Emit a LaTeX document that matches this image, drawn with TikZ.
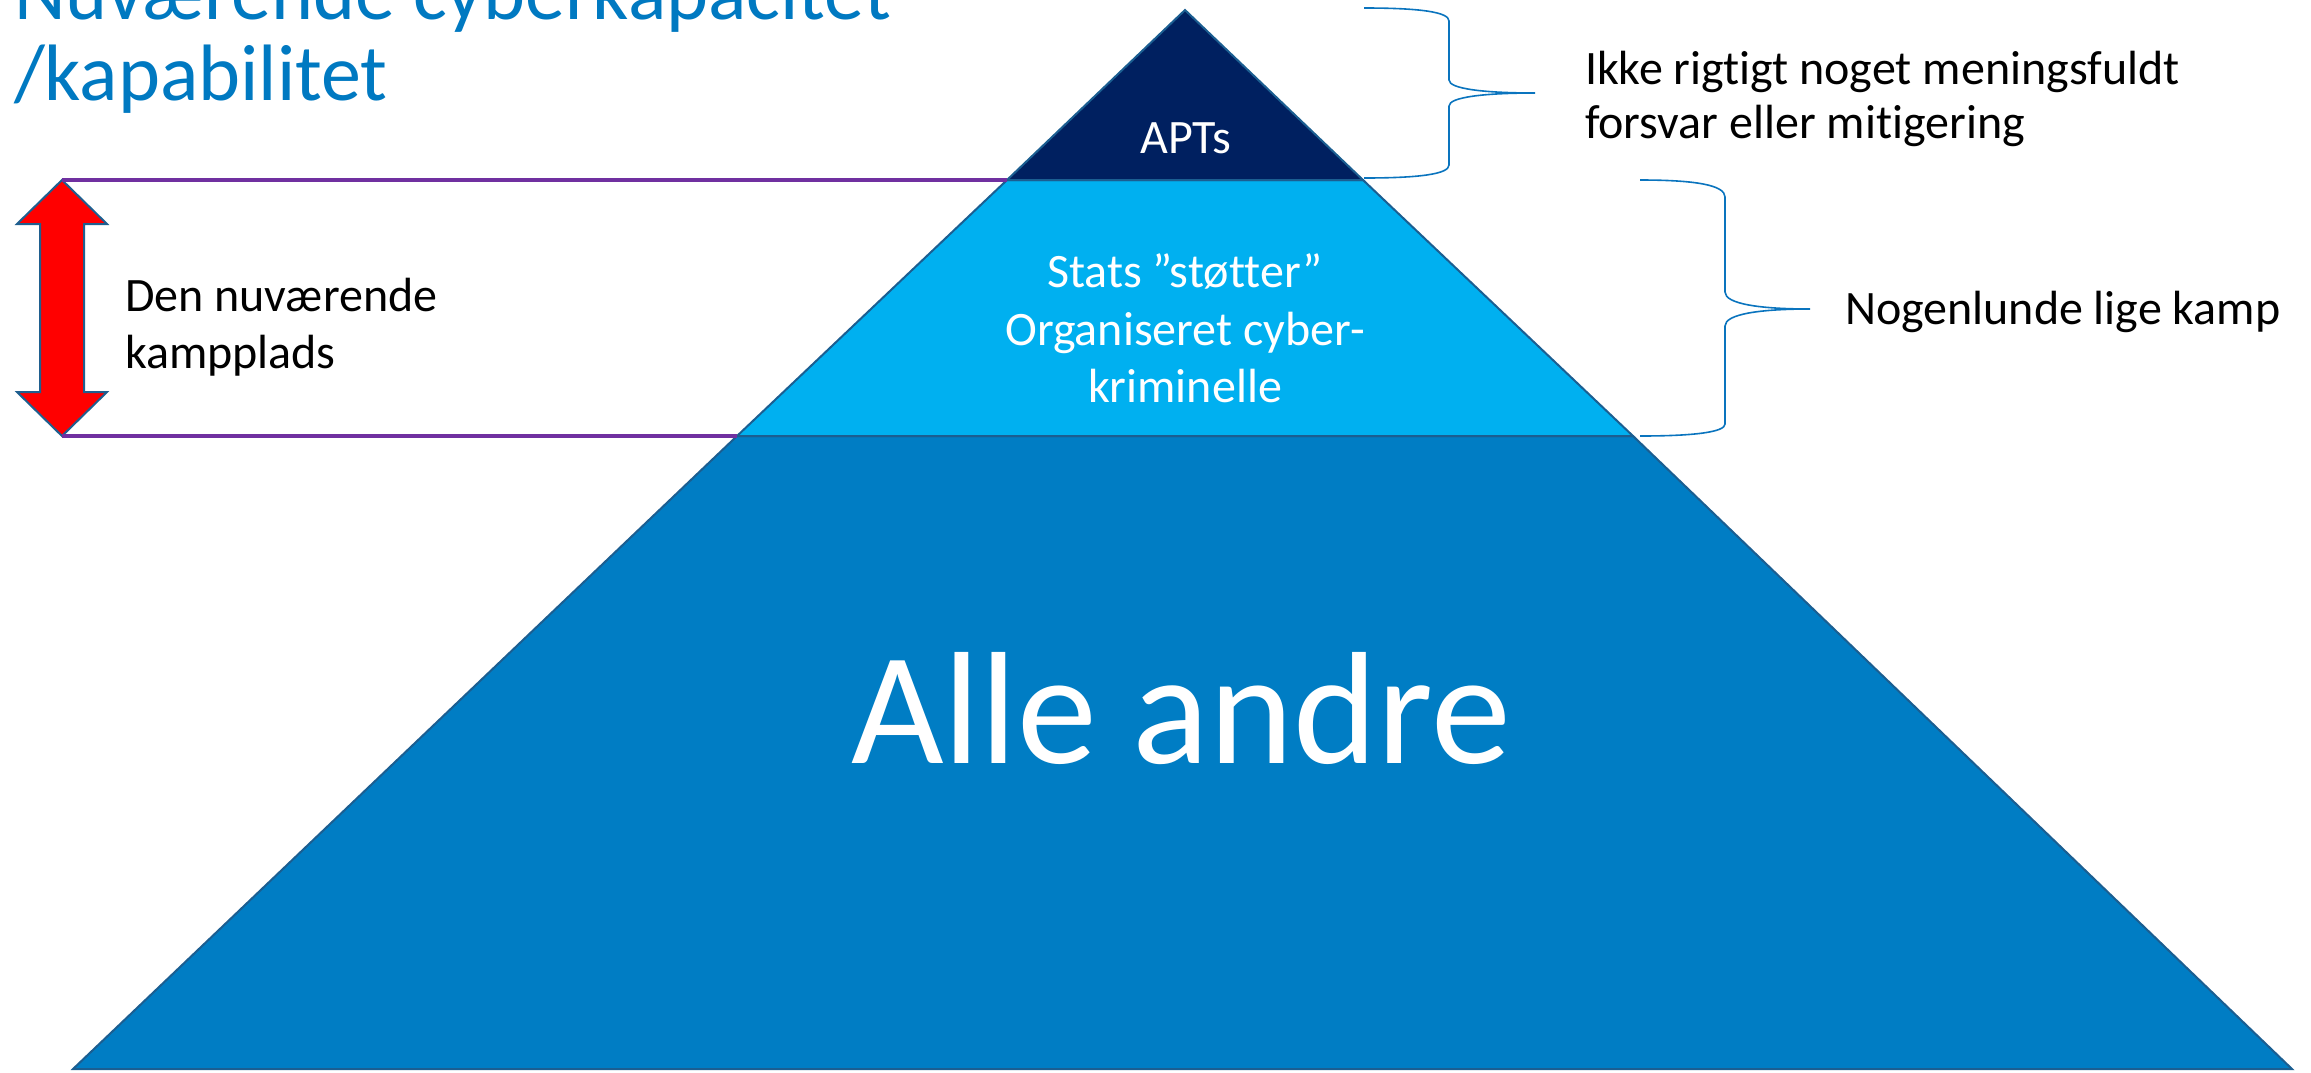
\documentclass[tikz,border=0pt]{standalone}
\usepackage{fontspec}
\setmainfont{Carlito}[Ligatures={NoCommon}]
\definecolor{titleblue}{HTML}{0079C1}
\definecolor{botblue}{HTML}{007DC4}
\definecolor{midblue}{HTML}{00B0F0}
\definecolor{topblue}{HTML}{002060}
\definecolor{edgeblue}{HTML}{1B5E91}
\definecolor{bracecol}{HTML}{0A74BE}
\definecolor{purp}{HTML}{7030A0}
\definecolor{arrowedge}{HTML}{1F5F8F}
\tikzset{
  band/.style={draw=edgeblue, line width=1pt, line join=miter},
  purpleline/.style={draw=purp, line width=1.6pt},
  bracestyle/.style={draw=bracecol, line width=0.8pt},
  lbl/.style={inner sep=0pt, outer sep=0pt},
  blacktext/.style={lbl, anchor=base west, font=\fontsize{24}{28}\selectfont, text=black},
  whitetext/.style={lbl, anchor=base, font=\fontsize{24}{28}\selectfont, text=white},
}
\begin{document}
\begin{tikzpicture}[x=0.5pt,y=-0.5pt]
\useasboundingbox (0,0) rectangle (2311,1072);
% pyramid corners
\coordinate (apex) at (1185,10);
\coordinate (aptL) at (1007,180);
\coordinate (aptR) at (1363,180);
\coordinate (midL) at (737,436);
\coordinate (midR) at (1633,436);
\coordinate (baseL) at (73,1069);
\coordinate (baseR) at (2292,1069);
% bands
\path[band, fill=botblue] (midL) -- (midR) -- (baseR) -- (baseL) -- cycle;
\path[band, fill=midblue] (aptL) -- (aptR) -- (midR) -- (midL) -- cycle;
\path[band, fill=topblue] (apex) -- (aptR) -- (aptL) -- cycle;
% red double arrow
\coordinate (arrTop) at (62,180);
\coordinate (arrBot) at (62,436);
\path[fill=red, draw=arrowedge, line width=1pt, line join=miter]
  (arrTop) -- (107,224) -- (84,224) -- (84,392) -- (107,392) -- (arrBot)
  -- (17,392) -- (40,392) -- (40,224) -- (17,224) -- cycle;
% purple lines
\draw[purpleline] (arrTop) -- (aptL);
\draw[purpleline] (arrBot) -- (midL);
% braces
\coordinate (b1top) at (1364,8);
\coordinate (b1tip) at (1535,93);
\coordinate (b1bot) at (1364,178);
\draw[bracestyle] (b1top) .. controls (1420,8) and (1449,12) .. (1449,21)
  -- (1449,80) .. controls (1449,89) and (1485,93) .. (b1tip)
  .. controls (1485,93) and (1449,97) .. (1449,106)
  -- (1449,165) .. controls (1449,174) and (1420,178) .. (b1bot);
\coordinate (b2top) at (1640,180);
\coordinate (b2tip) at (1810,309);
\coordinate (b2bot) at (1640,436);
\draw[bracestyle] (b2top) .. controls (1695,180) and (1725,185) .. (1725,197)
  -- (1725,292) .. controls (1725,304) and (1760,309) .. (b2tip)
  .. controls (1760,309) and (1725,314) .. (1725,326)
  -- (1725,424) .. controls (1725,432) and (1695,436) .. (b2bot);
% title (cut off at the top edge, as in the reference)
\node[lbl, anchor=base west, text=titleblue, font=\fontsize{40}{48}\selectfont] (title1) at (14,19) {Nuværende cyberkapacitet};
\node[lbl, anchor=base west, text=titleblue, font=\fontsize{40}{48}\selectfont] (title2) at (14,100) {/kapabilitet};
% labels
\node[blacktext] (den1) at (125,311) {Den nuværende};
\node[blacktext] (den2) at (125,368) {kampplads};
\node[blacktext] (ikke1) at (1585,84) {Ikke rigtigt noget meningsfuldt};
\node[blacktext] (ikke2) at (1585,138) {forsvar eller mitigering};
\node[blacktext] (nog) at (1845,324) {Nogenlunde lige kamp};
\node[whitetext] (apts) at (1186,153) {APTs};
\node[whitetext] (stats1) at (1185,287) {Stats ”støtter”};
\node[whitetext] (stats2) at (1185,345) {Organiseret cyber-};
\node[whitetext] (stats3) at (1185,402) {kriminelle};
\node[lbl, anchor=base, text=white, font=\fontsize{80}{96}\selectfont] (alle) at (1181,763) {Alle andre};
\end{tikzpicture}
\end{document}
